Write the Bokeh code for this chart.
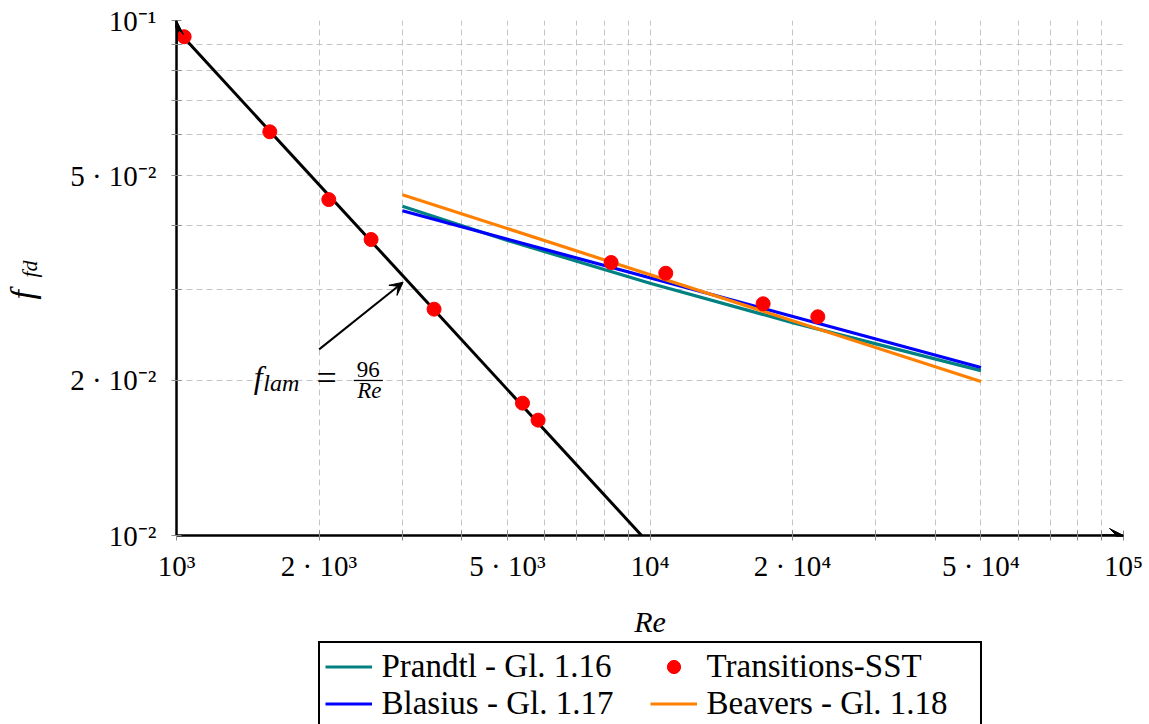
from bokeh.plotting import figure
from bokeh.layouts import row, column
from bokeh.models import Range1d, FixedTicker, Label, Arrow, VeeHead, Legend, LegendItem
from bokeh.embed import file_html
from bokeh.resources import INLINE
import math

# ---------------- data ----------------
lam_re = [1000, 9600]
lam_f = [0.096, 0.010]

prandtl_re = [3000, 5000, 10000, 20000, 50000]
prandtl_f = [0.0436, 0.0374, 0.0309, 0.0259, 0.0209]

blasius_re = [3000, 50000]
blasius_f = [0.0427, 0.0212]

beavers_re = [3000, 50000]
beavers_f = [0.0459, 0.0199]

sst_re = [1038, 1574, 2097, 2576, 3499, 5379, 5803, 8277, 10798, 17337, 22616]
sst_f = [0.0930, 0.0608, 0.0449, 0.03756, 0.02751, 0.01807, 0.01675, 0.03389, 0.03231, 0.02818, 0.02659]

x_ticks = [1000, 2000, 5000, 10000, 20000, 50000, 100000]
x_tick_labels = ["10³", "2 · 10³", "5 · 10³", "10⁴", "2 · 10⁴", "5 · 10⁴", "10⁵"]
x_minor = [3000, 4000, 6000, 7000, 8000, 9000, 30000, 40000, 60000, 70000, 80000, 90000]

y_ticks = [0.01, 0.02, 0.05, 0.1]
y_tick_labels = ["10⁻²", "2 · 10⁻²", "5 · 10⁻²", "10⁻¹"]
y_minor = [0.03, 0.04, 0.06, 0.07, 0.08, 0.09]

legend_labels = ["Prandtl - Gl. 1.16", "Transitions-SST", "Blasius - Gl. 1.17", "Beavers - Gl. 1.18"]

FONT = "Liberation Serif"
GRID = "#c4c4c4"
TICK = "#8c8c8c"
C_PR, C_BL, C_BE, C_SST = "#008080", "#0000ff", "#ff8000", "#ff0000"

# ---------------- main plot ----------------
p = figure(width=1099, height=640, x_axis_type="log", y_axis_type="log",
           x_range=Range1d(1e3, 1e5), y_range=Range1d(1e-2, 1e-1),
           output_backend="svg", toolbar_location=None,
           min_border_left=126, min_border_right=26, min_border_top=20, min_border_bottom=105)
p.outline_line_color = None
p.background_fill_color = "white"
p.border_fill_color = "white"

xax = p.xaxis[0]
yax = p.yaxis[0]
xax.ticker = FixedTicker(ticks=x_ticks, minor_ticks=x_minor)
yax.ticker = FixedTicker(ticks=y_ticks, minor_ticks=y_minor)
xax.major_label_overrides = {v: l for v, l in zip(x_ticks, x_tick_labels)}
yax.major_label_overrides = {v: l for v, l in zip(y_ticks, y_tick_labels)}

for ax in (xax, yax):
    ax.axis_line_color = "black"
    ax.axis_line_width = 2.5
    ax.major_tick_line_color = TICK
    ax.minor_tick_line_color = TICK
    ax.major_tick_in = 5
    ax.major_tick_out = 5
    ax.minor_tick_in = 5
    ax.minor_tick_out = 5
    ax.major_label_text_font = FONT
    ax.major_label_text_font_size = "29px"
    ax.major_label_text_color = "black"
xax.major_label_standoff = 9
yax.major_label_standoff = 15

xax.axis_label = "Re"
xax.axis_label_text_font = FONT
xax.axis_label_text_font_style = "italic"
xax.axis_label_text_font_size = "30px"
xax.axis_label_text_color = "black"
xax.axis_label_standoff = 20

for g in (p.xgrid[0], p.ygrid[0]):
    g.grid_line_color = GRID
    g.grid_line_dash = "6 4"
    g.grid_line_width = 1
    g.minor_grid_line_color = GRID
    g.minor_grid_line_dash = "6 4"
    g.minor_grid_line_width = 1

p.line(prandtl_re, prandtl_f, line_color=C_PR, line_width=3.2)
p.line(blasius_re, blasius_f, line_color=C_BL, line_width=3.2)
p.line(beavers_re, beavers_f, line_color=C_BE, line_width=3.2)
p.line(lam_re, lam_f, line_color="black", line_width=3)
p.scatter(sst_re, sst_f, size=14, color=C_SST)

# axis arrow heads
p.add_layout(Arrow(end=VeeHead(size=14, fill_color="black", line_color="black"),
                   x_start=9e4, y_start=1e-2, x_end=1e5, y_end=1e-2,
                   line_width=2.5, line_color="black"))
p.add_layout(Arrow(end=VeeHead(size=14, fill_color="black", line_color="black"),
                   x_start=1e3, y_start=0.09, x_end=1e3, y_end=0.1,
                   line_width=2.5, line_color="black"))

# annotation f_lam = 96/Re
p.add_layout(Arrow(end=VeeHead(size=13, fill_color="black", line_color="black"),
                   x_start=2001, y_start=0.02298, x_end=3010, y_end=0.03103,
                   line_width=2, line_color="black"))
p.add_layout(Label(x=1456, y=0.02034, text="f", text_font=FONT, text_font_style="italic",
                   text_font_size="32px", text_baseline="alphabetic", text_color="black"))
p.add_layout(Label(x=1525, y=0.01975, text="lam", text_font=FONT, text_font_style="italic",
                   text_font_size="24px", text_baseline="alphabetic", text_color="black"))
p.add_layout(Label(x=1975, y=0.02019, text="=", text_font=FONT,
                   text_font_size="36px", text_baseline="alphabetic", text_color="black"))
p.add_layout(Arrow(end=None, x_start=2368, y_start=0.0200, x_end=2728, y_end=0.0200,
                   line_width=1.3, line_color="black"))
p.add_layout(Label(x=2542, y=0.02099, text="96", text_font=FONT, text_align="center",
                   text_font_size="23px", text_baseline="alphabetic", text_color="black"))
p.add_layout(Label(x=2555, y=0.01910, text="Re", text_font=FONT, text_font_style="italic",
                   text_align="center", text_font_size="23px", text_baseline="alphabetic",
                   text_color="black"))

# ---------------- y-axis title strip (f_fd) ----------------
ylab = figure(width=50, height=640, x_range=Range1d(0, 50), y_range=Range1d(535, 20),
              x_axis_location=None, y_axis_location=None, output_backend="svg",
              toolbar_location=None, min_border_left=0, min_border_right=0,
              min_border_top=20, min_border_bottom=105)
ylab.outline_line_color = None
ylab.grid.visible = False
ylab.background_fill_color = "white"
ylab.border_fill_color = "white"
ylab.add_layout(Label(x=22, y=299, text="f", angle=math.pi / 2, text_font=FONT,
                      text_font_style="italic", text_font_size="34px", text_align="left",
                      text_baseline="alphabetic", text_color="black"))
ylab.add_layout(Label(x=29.3, y=277, text="fd", angle=math.pi / 2, text_font=FONT,
                      text_font_style="italic", text_font_size="22px", text_align="left",
                      text_baseline="alphabetic", text_color="black"))

# ---------------- legend strip ----------------
# proxy renderers (same data, lying outside this strip's view) for the legend glyphs
q = figure(width=1149, height=84, x_range=Range1d(0, 1), y_range=Range1d(0, 1),
           x_axis_location=None, y_axis_location=None, output_backend="svg",
           toolbar_location=None, min_border_left=176, min_border_right=26,
           min_border_top=0, min_border_bottom=0)
q.outline_line_color = None
q.grid.visible = False
q.background_fill_color = "white"
q.border_fill_color = "white"
g_pr = q.line(prandtl_re, prandtl_f, line_color=C_PR, line_width=3.2)
g_sst = q.scatter(sst_re, sst_f, size=14, color=C_SST)
g_bl = q.line(blasius_re, blasius_f, line_color=C_BL, line_width=3.2)
g_be = q.line(beavers_re, beavers_f, line_color=C_BE, line_width=3.2)

legend = Legend(items=[LegendItem(label=t, renderers=[r]) for t, r in
                       zip(legend_labels, [g_pr, g_sst, g_bl, g_be])],
                location="top_center", orientation="horizontal", ncols=2)
legend.label_text_font = FONT
legend.label_text_font_size = "33px"
legend.label_text_color = "black"
legend.border_line_color = "black"
legend.border_line_alpha = 1
legend.border_line_width = 2
legend.background_fill_color = "white"
legend.background_fill_alpha = 1
legend.padding = 5
legend.spacing = 0
legend.margin = 1
legend.label_standoff = 10
legend.glyph_width = 47
legend.glyph_height = 33
legend.label_height = 33
legend.label_width = 268
q.add_layout(legend, "center")

layout = column(row(ylab, p), q)
open("out.html", "w").write(file_html(layout, INLINE))
